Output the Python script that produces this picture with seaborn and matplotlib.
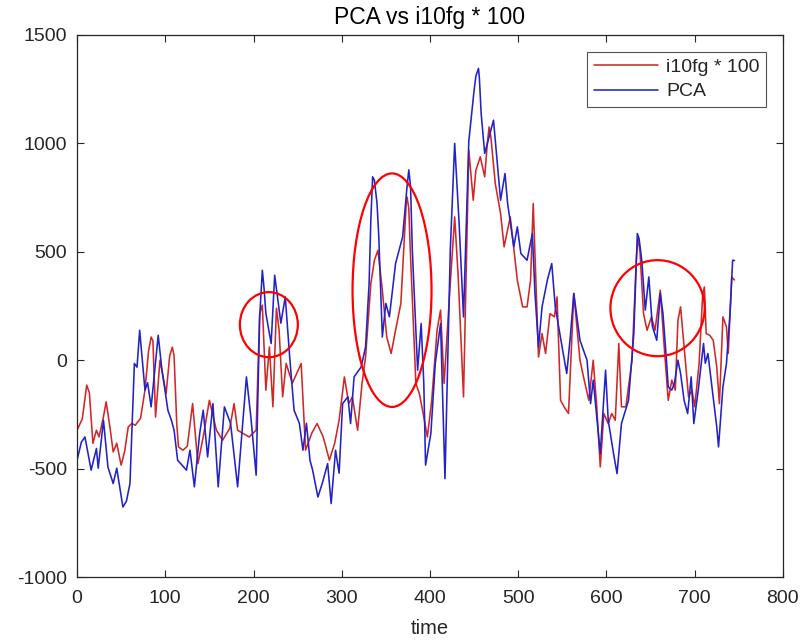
import matplotlib
matplotlib.use("Agg")
import matplotlib.pyplot as plt
from matplotlib.patches import Ellipse
import seaborn as sns
import pandas as pd

# i10fg scaled by 100
i10fg_time = [0, 6, 11, 14, 18, 22, 25, 30, 33, 37, 41, 45, 50, 54, 58, 62, 66, 72, 77,
              81, 84, 86, 89, 94, 101, 105, 108, 110, 113, 115, 120, 125, 131, 137,
              143, 150, 158, 165, 173, 178, 182, 195, 203, 207, 210, 214, 218, 222,
              226, 229, 233, 237, 244, 254, 259, 266, 272, 279, 286, 292, 297, 303,
              308, 312, 318, 323, 327, 333, 337, 341, 346, 351, 356, 361, 367, 371,
              373, 374, 376, 378, 384, 388, 393, 397, 402, 408, 412, 416, 423, 428,
              432, 438, 444, 449, 452, 457, 462, 465, 467, 469, 474, 480, 484, 491,
              499, 505, 510, 514, 517, 523, 527, 531, 536, 541, 544, 548, 552, 557,
              563, 570, 574, 580, 585, 589, 593, 597, 602, 606, 610, 614, 617, 622,
              629, 634, 636, 638, 642, 646, 651, 655, 661, 666, 670, 674, 678, 681,
              684, 688, 693, 697, 700, 705, 709, 711, 713, 717, 721, 725, 728, 732,
              736, 738, 742, 745]
i10fg_x100 = [-323, -270, -115, -150, -383, -323, -354, -260, -192, -300, -423, -383,
              -484, -420, -308, -292, -300, -268, -138, 40, 107, 90, -262, 0, -154,
              20, 60, 20, -291, -400, -415, -397, -200, -477, -354, -185, -323, -369,
              -315, -200, -323, -354, -323, 215, 254, -138, 61, -215, 240, 138, -169,
              -15, -106, -15, -415, -337, -292, -354, -461, -383, -277, -77, -200,
              -169, -323, -107, 15, 354, 461, 507, 323, 107, 31, 138, 262, 569, 720,
              753, 700, 477, -107, -154, -262, -354, -185, 138, 231, -107, 354, 661,
              384, -169, 969, 738, 876, 938, 846, 1000, 1076, 1030, 815, 677, 523,
              661, 369, 246, 246, 369, 723, 15, 123, 31, 215, 200, 292, -185, -215,
              -246, 308, 0, -77, -185, 0, -215, -492, -246, -292, -246, -277, 77,
              -215, -215, 0, 480, 569, 500, 215, 138, 200, 138, 323, 31, -185, -92,
              -138, 185, 246, 61, -169, -138, -215, -15, 300, 338, 123, 115, 92, -31,
              -200, 200, 154, 31, 384, 370]

# first principal component
pca_time = [0, 5, 9, 16, 22, 24, 30, 35, 41, 45, 52, 56, 60, 65, 68, 71, 77, 80, 84,
            92, 96, 103, 107, 110, 114, 124, 128, 133, 139, 143, 148, 154, 160, 167,
            174, 182, 192, 197, 203, 207, 210, 212, 214, 220, 224, 231, 236, 241,
            246, 252, 256, 260, 264, 267, 273, 278, 284, 288, 293, 297, 301, 307,
            310, 314, 322, 327, 331, 333, 335, 337, 340, 342, 346, 350, 354, 361,
            369, 374, 376, 378, 380, 386, 390, 393, 395, 401, 406, 412, 417, 423,
            428, 433, 438, 444, 450, 452, 455, 456, 458, 462, 467, 472, 480, 485,
            488, 495, 499, 503, 510, 516, 519, 523, 527, 533, 538, 542, 551, 555,
            559, 563, 570, 578, 582, 585, 593, 599, 602, 608, 612, 617, 625, 631,
            635, 637, 640, 644, 648, 652, 657, 661, 664, 668, 670, 674, 677, 681,
            684, 688, 692, 696, 699, 704, 710, 712, 715, 720, 725, 727, 732, 736,
            740, 743, 745]
pca_value = [-461, -377, -354, -507, -407, -498, -277, -492, -569, -498, -677, -650,
             -569, -15, -32, 138, -138, -104, -215, 115, -37, -231, -277, -323, -461,
             -507, -415, -584, -338, -231, -446, -200, -584, -215, -291, -584, -77,
             -262, -530, 200, 415, 330, 217, 77, 392, 171, 292, 15, -231, -291, -415,
             -291, -461, -507, -631, -567, -477, -661, -415, -521, -200, -169, -292,
             -77, -31, 61, 354, 650, 846, 830, 723, 569, 107, 262, 200, 446, 569,
             800, 878, 800, 507, -46, 169, -107, -484, -338, -15, 169, -546, 507,
             1000, 632, 200, 1010, 1245, 1310, 1346, 1300, 1138, 954, 1030, 1107,
             738, 861, 723, 523, 615, 492, 461, 584, 308, 61, 246, 369, 446, 246, 31,
             -61, 107, 308, 92, 0, -200, -92, -430, -46, -277, -430, -523, -292, -185,
             123, 584, 560, 461, 231, 384, 157, 92, 308, 217, 0, -123, -138, -107, 0,
             -61, -185, -246, -77, -292, -138, 77, -14, 31, -138, -308, -400, -123,
             -15, 215, 461, 460]

x_ticks = [0, 100, 200, 300, 400, 500, 600, 700, 800]
y_ticks = [-1000, -500, 0, 500, 1000, 1500]

# highlighted regions: (centre time, centre value, width, height)
highlights = [(217.4, 164, 65.7, 300), (357, 323, 89.5, 1077), (657.9, 240, 106.8, 443)]

sns.set_style("white")
plt.rcParams["font.family"] = ["Liberation Sans", "DejaVu Sans"]
plt.rcParams["axes.unicode_minus"] = False

red = "#d02828"
blue = "#2222c8"
ink = "#262626"

df_i10 = pd.DataFrame({"time": i10fg_time, "value": i10fg_x100})
df_pca = pd.DataFrame({"time": pca_time, "value": pca_value})

fig = plt.figure(figsize=(8.04, 6.41), dpi=100)
ax = fig.add_axes([0.0958, 0.0998, 0.878, 0.8456])

sns.lineplot(data=df_i10, x="time", y="value", ax=ax, color=red, linewidth=1.15,
             estimator=None, sort=False, label="i10fg * 100")
sns.lineplot(data=df_pca, x="time", y="value", ax=ax, color=blue, linewidth=1.15,
             estimator=None, sort=False, label="PCA")

for cx, cy, w, h in highlights:
    ax.add_patch(Ellipse((cx, cy), w, h, fill=False, edgecolor="red", linewidth=1.6,
                         zorder=5))

ax.set_xlim(0, 800)
ax.set_ylim(-1000, 1500)
ax.set_xticks(x_ticks)
ax.set_yticks(y_ticks)
ax.tick_params(direction="in", length=5, width=0.8, colors=ink, labelsize=14,
               top=True, right=True, bottom=True, left=True)
ax.tick_params(axis="x", pad=9)
ax.tick_params(axis="y", pad=7)
for side in ax.spines.values():
    side.set_color(ink)
    side.set_linewidth(0.9)

ax.set_title("PCA vs i10fg * 100", fontsize=16.5, color="black", pad=8)
ax.set_xlabel("time", fontsize=14.5, color=ink, labelpad=9)
ax.set_ylabel("")

leg = ax.legend(loc="upper right", fontsize=14, frameon=True, fancybox=False,
                handlelength=3.3, borderaxespad=0.85, borderpad=0.35,
                labelspacing=0.35, handletextpad=0.4)
leg.get_frame().set_edgecolor(ink)
leg.get_frame().set_linewidth(0.8)

fig.savefig("out.png", dpi=100)
